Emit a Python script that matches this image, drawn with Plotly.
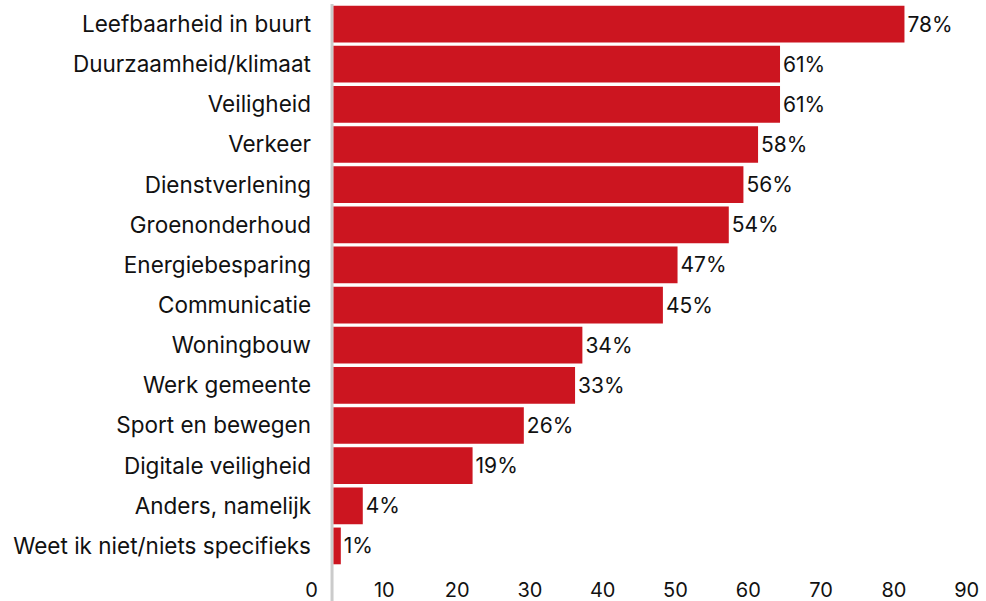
import plotly.graph_objects as go

categories = [
    "Leefbaarheid in buurt", "Duurzaamheid/klimaat", "Veiligheid", "Verkeer",
    "Dienstverlening", "Groenonderhoud", "Energiebesparing", "Communicatie",
    "Woningbouw", "Werk gemeente", "Sport en bewegen", "Digitale veiligheid",
    "Anders, namelijk", "Weet ik niet/niets specifieks",
]
values = [78, 61, 61, 58, 56, 54, 47, 45, 34, 33, 26, 19, 4, 1]
tick_values = [0, 10, 20, 30, 40, 50, 60, 70, 80, 90]

W, H = 986, 601
ML, MR, MT, MB = 300, 6, 4, 35
PX_L, PX_R = ML, W - MR
BAR0, BARS = 333.5, 7.32   # pixel of bar base, px per unit
TCK0, TCKS = 311.5, 7.28   # pixel of tick 0, px per unit

RED = "#CC1520"
FONT = "Inter"
INK = "#111111"

fig = go.Figure()
fig.add_trace(go.Bar(
    x=values, y=categories, orientation="h",
    marker=dict(color=RED, line=dict(width=0)),
    text=[f"{v}%" for v in values], textposition="outside",
    textfont=dict(family=FONT, size=21, color=INK),
    cliponaxis=False, hoverinfo="skip", xaxis="x", yaxis="y",
))
# invisible trace to carry the second (tick) axis
fig.add_trace(go.Scatter(x=tick_values, y=[categories[0]] * len(tick_values),
                         mode="markers", marker=dict(opacity=0),
                         xaxis="x2", yaxis="y", hoverinfo="skip", showlegend=False))

fig.update_layout(
    width=W, height=H,
    margin=dict(l=ML, r=MR, t=MT, b=MB, autoexpand=False),
    plot_bgcolor="white", paper_bgcolor="white",
    showlegend=False, bargap=0.085, hovermode=False,
    font=dict(family=FONT, size=21, color=INK),
    xaxis=dict(range=[(PX_L - BAR0) / BARS, (PX_R - BAR0) / BARS],
               showticklabels=False, showgrid=False, zeroline=False, showline=False,
               automargin=False),
    xaxis2=dict(range=[(PX_L - TCK0) / TCKS, (PX_R - TCK0) / TCKS],
                overlaying="x", side="bottom", anchor="y",
                tickvals=tick_values, ticktext=[str(t) for t in tick_values],
                showgrid=False, zeroline=False, showline=False,
                ticklabelstandoff=10, automargin=False,
                tickfont=dict(family=FONT, size=20, color=INK)),
    yaxis=dict(type="category", categoryorder="array", categoryarray=categories,
               range=[len(categories) - 0.5, -0.5],
               showgrid=False, zeroline=False, showline=False,
               ticks="", ticklabelstandoff=-12, automargin=False,
               tickfont=dict(family=FONT, size=22.5, color=INK)),
    shapes=[dict(type="line", xref="x", yref="paper", x0=-0.2, x1=-0.2,
                 y0=-MB / (H - MT - MB), y1=1.0,
                 line=dict(color="#CBCBCB", width=3), layer="below")],
)

fig.write_html("out.html",
               config={"displayModeBar": False, "staticPlot": True},
               post_script="document.body.style.margin='0';document.body.style.overflow='hidden';")
